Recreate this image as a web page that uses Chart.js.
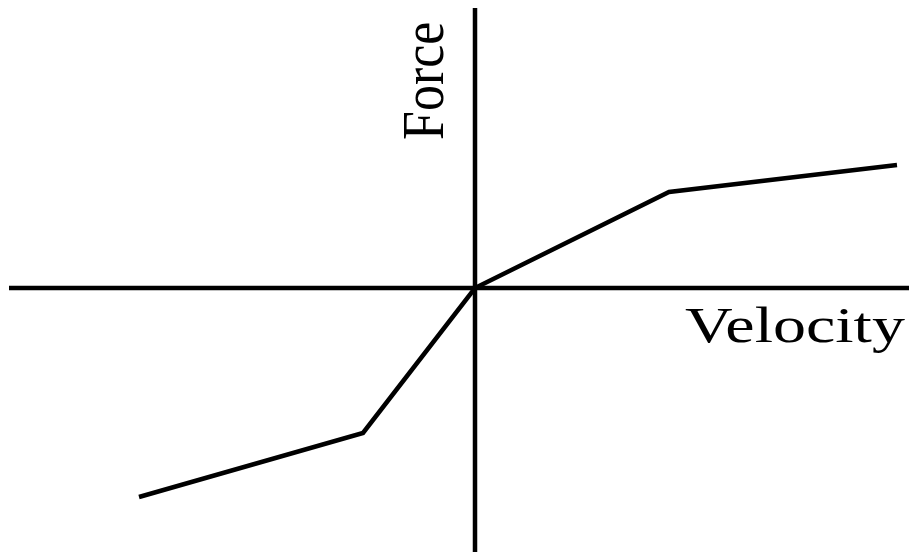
<!DOCTYPE html>
<html>
<head>
<meta charset="utf-8">
<script src="https://cdn.jsdelivr.net/npm/chart.js@4/dist/chart.umd.min.js"></script>
<style>
  html, body { margin: 0; padding: 0; background: #fff; }
  #wrap { width: 909px; height: 552px; position: relative; }
</style>
</head>
<body>
<div id="wrap"><canvas id="chart"></canvas></div>
<script>
// piecewise force-velocity curve (arbitrary units, origin at the cross)
const velocity = [-3.36, -1.12, 0, 1.94, 4.22];
const force = [-2.09, -1.45, 0, 0.96, 1.23];
const axisLabels = ['Velocity', 'Force'];

const points = velocity.map((v, i) => ({ x: v, y: force[i] }));

// draws the two crossing axes and their labels
const crossAxes = {
  id: 'crossAxes',
  beforeDatasetsDraw(chart) {
    const c = chart.ctx;
    const xs = chart.scales.x;
    const ys = chart.scales.y;
    const x0 = xs.getPixelForValue(0);
    const y0 = ys.getPixelForValue(0);
    c.save();
    c.strokeStyle = '#000';
    c.lineWidth = 4.5;
    c.beginPath();
    c.moveTo(xs.getPixelForValue(-4.66), y0);
    c.lineTo(chart.width, y0);
    c.moveTo(x0, ys.getPixelForValue(2.80));
    c.lineTo(x0, chart.height);
    c.stroke();

    c.fillStyle = '#000';
    c.font = '50px "Liberation Serif", "Times New Roman", serif';
    c.textBaseline = 'alphabetic';
    // Velocity (stretched a bit wider, like the original)
    c.save();
    c.translate(685, 342);
    c.scale(1.32, 1);
    c.fillText(axisLabels[0], 0, 0);
    c.restore();
    // Force, rotated
    c.save();
    c.translate(443, 140);
    c.rotate(-Math.PI / 2);
    c.scale(1.04, 1.2);
    c.fillText(axisLabels[1], 0, 0);
    c.restore();
    c.restore();
  }
};

new Chart(document.getElementById('chart'), {
  type: 'scatter',
  data: {
    datasets: [{
      data: points,
      showLine: true,
      borderColor: '#000',
      borderWidth: 4.5,
      pointRadius: 0,
      borderJoinStyle: 'miter',
      clip: false
    }]
  },
  options: {
    responsive: true,
    maintainAspectRatio: false,
    animation: false,
    layout: { padding: 0 },
    plugins: { legend: { display: false }, tooltip: { enabled: false } },
    scales: {
      x: { type: 'linear', min: -4.75, max: 4.34, display: false },
      y: { type: 'linear', min: -2.64, max: 2.88, display: false }
    }
  },
  plugins: [crossAxes]
});
</script>
</body>
</html>
